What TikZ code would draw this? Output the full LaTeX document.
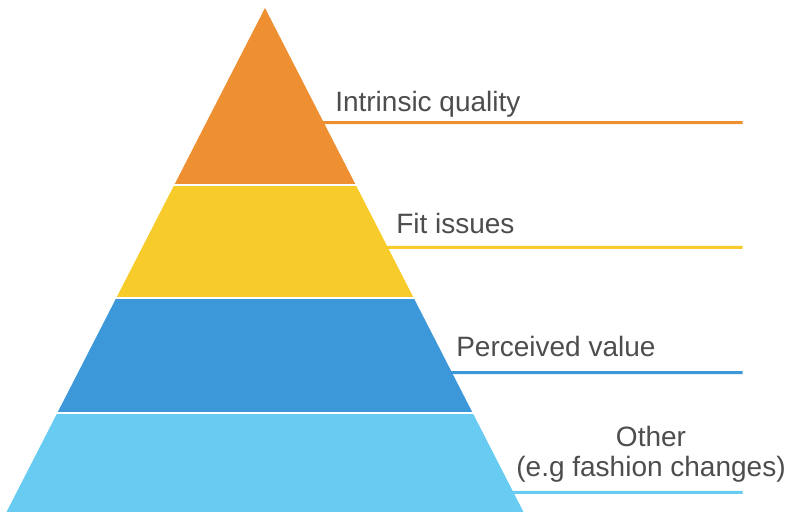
\documentclass[tikz,border=0pt]{standalone}
\usepackage{fontspec}
\setmainfont{Liberation Sans}
\usetikzlibrary{calc}

\definecolor{qualityorange}{RGB}{238,143,50}
\definecolor{fityellow}{RGB}{247,203,42}
\definecolor{valueblue}{RGB}{61,152,218}
\definecolor{otherblue}{RGB}{104,204,242}
\definecolor{labelgray}{RGB}{77,77,77}

\tikzset{
	levellabel/.style={anchor=base west,inner sep=0.75pt,text=labelgray,font=\fontsize{21}{22.5}\selectfont},
	leader/.style={line width=2.25pt}
}

\begin{document}
\begin{tikzpicture}[x=0.75pt,y=0.75pt,yscale=-1,xscale=1]
	%set diagram left start at 0, and has height of 512
	\useasboundingbox (0,0) rectangle (791,512);
	
	\coordinate (apex) at (265,8);
	\coordinate (bl) at (6.5,512);
	\coordinate (br) at (523.5,512);
	
	%Shape: Triangle, cut in bands
	\begin{scope}
		\clip (apex) -- (bl) -- (br) -- cycle;
		\fill [qualityorange] (0,0) rectangle (791,184);
		\fill [fityellow] (0,186.3) rectangle (791,297);
		\fill [valueblue] (0,299.3) rectangle (791,411.5);
		\fill [otherblue] (0,413.8) rectangle (791,512);
	\end{scope}
	
	%Leader ends on the right side of the pyramid
	\coordinate (q0) at ($(apex)!0.2276!(br)$);
	\coordinate (f0) at ($(apex)!0.4748!(br)$);
	\coordinate (v0) at ($(apex)!0.7236!(br)$);
	\coordinate (o0) at ($(apex)!0.9610!(br)$);
	\coordinate (q1) at (742.7,122.7);
	\coordinate (f1) at (742.7,247.3);
	\coordinate (v1) at (742.7,372.7);
	\coordinate (o1) at (742.7,492.3);
	
	%Straight Lines
	\draw [leader,qualityorange] ($(q0)+(-1,0)$) -- (q1);
	\draw [leader,fityellow] ($(f0)+(-1,0)$) -- (f1);
	\draw [leader,valueblue] ($(v0)+(-1,0)$) -- (v1);
	\draw [leader,otherblue] ($(o0)+(-1,0)$) -- (o1);
	
	% Text Node
	\node (quality) [levellabel] at (334,111.7) {Intrinsic quality};
	% Text Node
	\node (fit) [levellabel] at (395,233.3) {Fit issues};
	% Text Node
	\node (value) [levellabel] at (455,356) {Perceived value};
	% Text Node
	\node (other) [levellabel,anchor=base,align=center] at (651,476.7) {Other\\(e.g fashion changes)};
	
\end{tikzpicture}
\end{document}
